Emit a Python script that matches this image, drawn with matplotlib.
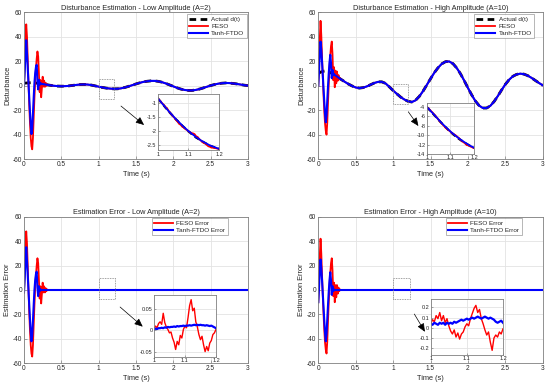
import numpy as np
import matplotlib
matplotlib.use("Agg")
import matplotlib.pyplot as plt

plt.rcParams['font.family'] = ['Liberation Sans', 'DejaVu Sans']
plt.rcParams['axes.unicode_minus'] = False

# ---------------- data ----------------
# time grid: fine during transient (0..0.35 s, 0.01 s), coarse afterwards (0.40..3.00 s, 0.05 s)
t_fast = [round(0.01 * i, 2) for i in range(36)]
t_slow = [round(0.40 + 0.05 * i, 2) for i in range(53)]
t_main = t_fast + t_slow

low_actual = [2.00, 2.05, 2.10, 2.15, 2.20, 2.25, 2.30, 2.33, 2.36, 2.38, 2.40, 2.40, 2.38, 2.35, 2.30, 2.22,
              2.15, 2.07, 1.98, 1.89, 1.80, 1.70, 1.60, 1.50, 1.40, 1.30, 1.20, 1.10, 1.00, 0.90, 0.80, 0.70,
              0.60, 0.50, 0.40, 0.30,
              -0.10, -0.35, -0.45, -0.40, -0.20, 0.20, 0.60, 0.90, 1.00, 0.90, 0.50, -0.15, -0.82, -1.46,
              -2.00, -2.39, -2.62, -2.60, -2.20, -1.50, -0.60, 0.40, 1.40, 2.30, 3.10, 3.60, 3.90, 3.90,
              3.50, 2.80, 1.80, 0.60, -0.60, -1.80, -2.80, -3.50, -3.90, -3.90, -3.50, -2.80, -1.90, -0.90,
              0.10, 0.90, 1.60, 2.00, 2.20, 2.10, 1.80, 1.40, 0.90, 0.40, 0.00]

high_actual = [10.0, 10.4, 10.7, 11.0, 11.3, 11.5, 11.7, 11.8, 11.9, 12.0, 12.0, 11.9, 11.8, 11.6, 11.3, 11.0,
               10.7, 10.4, 10.1, 9.8, 9.5, 9.1, 8.7, 8.3, 7.9, 7.5, 7.0, 6.6, 6.1, 5.7, 5.3, 4.9,
               4.5, 4.1, 3.7, 3.3,
               1.4, -0.2, -1.5, -2.0, -1.6, -0.6, 0.8, 2.2, 3.1, 3.1, 1.8, -1.0, -4.0, -6.7,
               -9.3, -11.3, -12.8, -13.4, -12.0, -8.8, -4.5, 0.5, 5.6, 10.5, 14.6, 17.8, 19.6, 19.8,
               18.0, 14.5, 9.8, 4.2, -1.8, -7.5, -12.6, -16.3, -18.3, -18.3, -16.5, -13.0, -8.5, -3.6,
               1.0, 4.8, 7.6, 9.2, 9.8, 9.4, 8.2, 6.4, 4.3, 2.2, 0.3]

low_feso_err = [-2, 15, 35, 48, 38, 20, 0, -18, -33, -45, -52, -54.5, -45, -28, -12, 2, 12, 20, 26, 22,
                8, -7, 3, -11, -3, 6, -2, 3, -2, 1.5, -1, 0.5, 0, 0, 0, 0] + [0.0] * 53
low_ftdo_err = [-2, 10, 25, 35, 24, 12, 0, -12, -24, -34, -42, -38, -25, -12, 0, 8, 13, 15, 2, -5,
                3, -1, 0.5, 0, 0, 0, 0, 0, 0, 0, 0, 0, 0, 0, 0, 0] + [0.0] * 53
high_feso_err = [-10, 8, 28, 42, 30, 12, -5, -20, -33, -43, -49, -52, -42, -25, -10, 4, 14, 22, 26, 16,
                 -5, 6, -10, 4, -6, 4, -3, 2, -1, 0.5, 0, 0, 0, 0, 0, 0] + [0.0] * 53
high_ftdo_err = [-10, 2, 15, 25, 18, 8, -3, -14, -25, -35, -42, -36, -24, -12, -1, 8, 14.5, 8, -4, 3,
                 -1, 0.5, 0, 0, 0, 0, 0, 0, 0, 0, 0, 0, 0, 0, 0, 0] + [0.0] * 53

# zoom window 1.0..1.2 s, 0.005 s step
t_zoom = [round(1.0 + 0.005 * i, 3) for i in range(41)]
low_zoom_actual = [-0.82, -0.89, -0.95, -1.02, -1.08, -1.15, -1.21, -1.28, -1.34, -1.40, -1.46, -1.52, -1.58,
                   -1.63, -1.69, -1.74, -1.80, -1.85, -1.90, -1.95, -2.00, -2.04, -2.09, -2.13, -2.17, -2.22,
                   -2.25, -2.29, -2.33, -2.36, -2.39, -2.42, -2.45, -2.48, -2.51, -2.53, -2.55, -2.57, -2.59,
                   -2.61, -2.62]
high_zoom_actual = [-4.00, -4.26, -4.52, -4.79, -5.06, -5.33, -5.60, -5.88, -6.16, -6.44, -6.72, -7.00, -7.27,
                    -7.54, -7.80, -8.06, -8.31, -8.56, -8.80, -9.04, -9.27, -9.50, -9.72, -9.93, -10.14, -10.34,
                    -10.54, -10.73, -10.91, -11.09, -11.26, -11.43, -11.59, -11.75, -11.90, -12.05, -12.19,
                    -12.33, -12.46, -12.59, -12.71]
low_feso_zoom = [0.003, 0.010, 0.006, 0.016, 0.020, 0.014, 0.040, 0.018, 0.008, 0.002, -0.006, -0.004, -0.018,
                 -0.028, -0.045, -0.026, -0.034, -0.012, -0.018, 0.002, 0.010, 0.006, 0.030, 0.058, 0.072,
                 0.046, 0.052, 0.020, 0.008, -0.010, -0.022, -0.014, -0.034, -0.050, -0.038, -0.048, -0.030,
                 -0.024, -0.010, -0.006, 0.002]
low_ftdo_zoom = [0.002, 0.004, 0.003, 0.005, 0.005, 0.006, 0.005, 0.007, 0.006, 0.008, 0.007, 0.008, 0.008,
                 0.009, 0.008, 0.010, 0.009, 0.010, 0.010, 0.011, 0.010, 0.011, 0.011, 0.012, 0.011, 0.012,
                 0.013, 0.012, 0.013, 0.012, 0.013, 0.012, 0.012, 0.011, 0.012, 0.011, 0.010, 0.011, 0.009,
                 0.007, 0.005]
high_feso_zoom = [0.04, 0.08, 0.06, 0.12, 0.09, 0.15, 0.07, 0.12, 0.05, 0.09, 0.02, -0.03, -0.06, -0.02,
                  -0.09, -0.05, -0.11, -0.06, -0.04, 0.01, 0.04, 0.02, 0.09, 0.14, 0.19, 0.22, 0.15, 0.18,
                  0.09, 0.04, -0.02, -0.07, -0.04, -0.14, -0.22, -0.10, -0.07, -0.09, -0.04, -0.06, -0.01]
high_ftdo_zoom = [0.04, 0.03, 0.05, 0.04, 0.03, 0.05, 0.04, 0.05, 0.03, 0.05, 0.04, 0.05, 0.04, 0.06, 0.05,
                  0.06, 0.07, 0.08, 0.07, 0.08, 0.09, 0.08, 0.09, 0.10, 0.09, 0.10, 0.11, 0.10, 0.09, 0.10,
                  0.11, 0.10, 0.09, 0.10, 0.09, 0.08, 0.06, 0.05, 0.06, 0.07, 0.05]

titles = ['Disturbance Estimation - Low Amplitude (A=2)', 'Disturbance Estimation - High Amplitude (A=10)',
          'Estimation Error - Low Amplitude (A=2)', 'Estimation Error - High Amplitude (A=10)']

# ---------------- style ----------------
RED = '#ff0000'
BLUE = '#0000ff'
AX_COL = '#808080'
GRID_COL = '#e3e3e3'
TXT = '#262626'
FS_T = 5.3
FS_TICK = 4.7
FS_LEG = 4.6
FS_IN = 4.0

fig = plt.figure(figsize=(5.5, 3.87), dpi=100)
W, H = 550.0, 387.0


def add_axes_px(l, t, r, b):
    return fig.add_axes([l / W, 1 - b / H, (r - l) / W, (b - t) / H])


def style(ax, fs):
    for s in ax.spines.values():
        s.set_color(AX_COL)
        s.set_linewidth(0.6)
    ax.tick_params(direction='in', length=2, width=0.5, colors=AX_COL, labelcolor=TXT, labelsize=fs, pad=1.5)
    ax.grid(True, color=GRID_COL, linewidth=0.6)
    ax.set_axisbelow(True)


axs = [add_axes_px(24, 12.3, 248, 159), add_axes_px(318.3, 12.3, 542.7, 159),
       add_axes_px(24, 216.7, 248, 363.3), add_axes_px(318.3, 216.7, 542.7, 363.3)]

tm = np.array(t_main)
dist_sets = [(np.array(low_actual), np.array(low_feso_err), np.array(low_ftdo_err)),
             (np.array(high_actual), np.array(high_feso_err), np.array(high_ftdo_err))]
zoom_sets = [(np.array(low_zoom_actual), np.array(low_feso_zoom), np.array(low_ftdo_zoom)),
             (np.array(high_zoom_actual), np.array(high_feso_zoom), np.array(high_ftdo_zoom))]

dash = (0, (2.4, 1.6))

# inset bounds (axes fraction), zoom ylims, yticks, dashed box y ranges, arrows
inset_bounds = [(0.597, 0.058, 0.274, 0.383), (0.483, 0.034, 0.211, 0.346),
                (0.580, 0.045, 0.277, 0.421), (0.501, 0.057, 0.322, 0.380)]
inset_ylim = [(-2.68, -0.68), (-14, -3.2), (-0.062, 0.083), (-0.265, 0.28)]
inset_yticks = [[-2.5, -2, -1.5, -1], [-14, -12, -10, -8, -6, -4], [-0.05, 0, 0.05], [-0.2, -0.1, 0, 0.1, 0.2]]
box_x = [(1.0, 1.205), (1.0, 1.205), (1.01, 1.222), (1.0, 1.23)]
box_y = [(-10.9, 5.2), (-15.3, 1.1), (-7.4, 9.6), (-7.4, 9.6)]
arrows = [((0.433, 0.361), (0.536, 0.232)), ((0.401, 0.322), (0.446, 0.225)),
          ((0.429, 0.384), (0.530, 0.250)), ((0.428, 0.336), (0.475, 0.215))]
leg_anchor = [(0.994, 0.986), (0.961, 0.988), (0.909, 0.989), (0.906, 0.989)]

for k, ax in enumerate(axs):
    style(ax, FS_TICK)
    amp = k % 2
    actual, e_feso, e_ftdo = dist_sets[amp]
    za, zf, zt = zoom_sets[amp]
    if k < 2:
        ax.plot(tm, actual, color='black', lw=2.0, linestyle=dash, label='Actual d(t)')
        ax.plot(tm, actual + e_feso, color=RED, lw=1.3, label='FESO')
        ax.plot(tm, actual + e_ftdo, color=BLUE, lw=1.5, label='Tanh-FTDO')
        ax.set_ylabel('Disturbance', fontsize=FS_T, color=TXT, labelpad=1)
    else:
        ax.plot(tm, e_feso, color=RED, lw=1.3, label='FESO Error')
        ax.plot(tm, e_ftdo, color=BLUE, lw=1.5, label='Tanh-FTDO Error')
        ax.set_ylabel('Estimation Error', fontsize=FS_T, color=TXT, labelpad=1)
    ax.set_xlim(0, 3)
    ax.set_ylim(-60, 60)
    ax.set_xticks([0, 0.5, 1, 1.5, 2, 2.5, 3])
    ax.set_xticklabels(['0', '0.5', '1', '1.5', '2', '2.5', '3'])
    ax.set_yticks([-60, -40, -20, 0, 20, 40, 60])
    ax.set_xlabel('Time (s)', fontsize=FS_T, color=TXT, labelpad=2)
    ax.set_title(titles[k], fontsize=FS_T, color=TXT, pad=2)
    leg = ax.legend(loc='upper right', bbox_to_anchor=leg_anchor[k], borderaxespad=0, fontsize=FS_LEG,
                    frameon=True, fancybox=False, handlelength=3.0, handletextpad=0.5, borderpad=0.35,
                    labelspacing=0.25, edgecolor=AX_COL)
    leg.get_frame().set_linewidth(0.5)
    for txt in leg.get_texts():
        txt.set_color(TXT)

    # dashed zoom box
    x0, x1 = box_x[k]
    y0, y1 = box_y[k]
    ax.plot([x0, x1, x1, x0, x0], [y0, y0, y1, y1, y0], color='#808080', lw=0.6, linestyle=(0, (1, 1)))

    # arrow
    (sx, sy), (ex, ey) = arrows[k]
    ax.annotate('', xy=(ex, ey), xytext=(sx, sy), xycoords='axes fraction', textcoords='axes fraction',
                arrowprops=dict(arrowstyle='-|>,head_length=0.5,head_width=0.22', color='black', lw=0.5,
                                shrinkA=0, shrinkB=0))

    # inset
    ins = ax.inset_axes(inset_bounds[k])
    style(ins, FS_IN)
    ins.set_facecolor('white')
    if k < 2:
        ins.plot(t_zoom, za, color='black', lw=1.6, linestyle=dash)
        ins.plot(t_zoom, za + zf, color=RED, lw=1.3)
        ins.plot(t_zoom, za + zt, color=BLUE, lw=1.3)
    else:
        ins.plot(t_zoom, zf, color=RED, lw=1.0)
        ins.plot(t_zoom, zt, color=BLUE, lw=1.6)
    ins.set_xlim(1.0, 1.2)
    ins.set_ylim(*inset_ylim[k])
    ins.set_xticks([1.0, 1.1, 1.2])
    ins.set_xticklabels(['1', '1.1', '1.2'])
    ins.set_yticks(inset_yticks[k])
    ins.set_yticklabels([('%g' % v) for v in inset_yticks[k]])
    ins.tick_params(length=1.5, pad=1)

fig.savefig('out.png', dpi=100)
